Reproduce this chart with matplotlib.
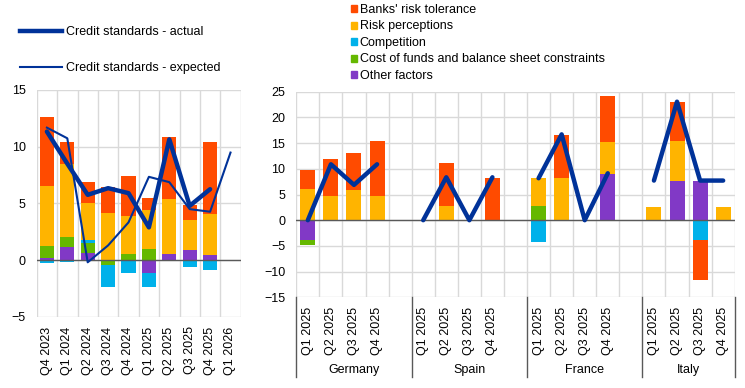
import matplotlib

matplotlib.use("Agg")

import matplotlib.pyplot as plt
import numpy as np
from matplotlib.lines import Line2D
from matplotlib.patches import Patch

# left panel: euro area, Q4 2023 - Q1 2026
EA_QUARTERS = ["Q4 2023", "Q1 2024", "Q2 2024", "Q3 2024", "Q4 2024",
               "Q1 2025", "Q2 2025", "Q3 2025", "Q4 2025", "Q1 2026"]
EA_OTHER = [0.2, 1.17, 0.65, 0.0, 0.0, -1.12, 0.56, 0.91, 0.47, 0.0]
EA_COST = [1.06, 0.88, 0.85, -0.47, 0.56, 1.0, 0.0, 0.0, 0.0, 0.0]
EA_COMPETITION = [-0.3, -0.15, 0.29, -1.88, -1.17, -1.23, 0.0, -0.59, -0.85, 0.0]
EA_RISK_PERC = [5.3, 6.43, 3.26, 4.17, 3.34, 3.43, 4.84, 2.64, 3.61, 0.0]
EA_RISK_TOL = [6.07, 1.94, 1.85, 2.29, 3.53, 1.06, 5.46, 1.32, 6.34, 0.0]
EA_ACTUAL = [11.33, 8.5, 5.75, 6.34, 5.9, 2.88, 10.65, 4.78, 6.25, np.nan]
EA_EXPECTED = [11.68, 10.74, -0.2, 1.29, 3.32, 7.34, 6.87, 4.49, 4.26, 9.48]

# right panel: countries, Q1 - Q4 2025
COUNTRIES = ["Germany", "Spain", "France", "Italy"]
CTRY_QUARTERS = ["Q1 2025", "Q2 2025", "Q3 2025", "Q4 2025"]
CT_RISK_TOL = [3.69, 7.19, 7.19, 10.68, 0, 8.36, 0, 8.23,
               0, 8.35, 0, 8.94, 0, 7.58, -7.77, 0]
CT_RISK_PERC = [6.09, 4.73, 5.89, 4.73, 0, 2.78, 0, 0,
                5.38, 8.23, 0, 6.22, 2.59, 7.7, 0, 2.59]
CT_COMPETITION = [0, 0, 0, 0, 0, 0, 0, 0,
                  -4.21, 0, 0, 0, 0, 0, -3.82, 0]
CT_COST = [-1.1, 0, 0, 0, 0, 0, 0, 0,
           2.78, 0, 0, 0, 0, 0, 0, 0]
CT_OTHER = [-3.82, 0, 0, 0, 0, 0, 0, 0,
            0, 0, 0, 9.0, 0, 7.71, 7.71, 0]
CT_ACTUAL = [0, 10.88, 6.87, 10.88, 0, 8.35, 0, 8.35,
             8.16, 16.7, 0, 9.13, 7.71, 23.06, 7.71, 7.71]

FACTOR_NAMES = ["Other factors", "Cost of funds and balance sheet constraints",
                "Competition", "Risk perceptions", "Banks' risk tolerance"]
FACTOR_COLORS = ["#8139C6", "#65B800", "#00B1EA", "#FFB400", "#FF4B00"]
LINE_COLOR = "#003299"
GRID = "#D9D9D9"


def stacked(ax, x, series, width):
    pos = np.zeros(len(x))
    neg = np.zeros(len(x))
    for values, color in zip(series, FACTOR_COLORS):
        v = np.asarray(values, dtype=float)
        up = np.where(v > 0, v, 0)
        dn = np.where(v < 0, v, 0)
        ax.bar(x, up, width, bottom=pos, color=color, linewidth=0, zorder=2)
        ax.bar(x, dn, width, bottom=neg, color=color, linewidth=0, zorder=2)
        pos += up
        neg += dn


def style(ax, n_slots, ylim, step):
    ax.set_xlim(0, n_slots)
    ax.set_ylim(*ylim)
    ax.set_yticks(np.arange(ylim[0], ylim[1] + 1, step))
    ax.set_xticks(np.arange(n_slots + 1), minor=True)
    ax.grid(axis="y", which="major", color=GRID, linewidth=1)
    ax.grid(axis="x", which="minor", color=GRID, linewidth=1)
    ax.set_axisbelow(True)
    for s in ax.spines.values():
        s.set_visible(False)
    ax.tick_params(axis="both", which="both", length=0)
    ax.tick_params(axis="y", pad=8)
    ax.tick_params(axis="x", pad=7)
    ax.axhline(0, color="#595959", linewidth=1, zorder=3)


plt.rcParams.update({"font.family": ["Liberation Sans", "DejaVu Sans"],
                     "font.size": 9})

fig = plt.figure(figsize=(7.45, 3.88), dpi=100)
ax1 = fig.add_axes([36.7 / 745, 1 - 316.7 / 388, 204 / 745, 226.7 / 388])
ax2 = fig.add_axes([296.3 / 745, 1 - 297.3 / 388, 438.4 / 745, 205.6 / 388])

# left panel
x1 = np.arange(len(EA_QUARTERS)) + 0.5
stacked(ax1, x1, [EA_OTHER, EA_COST, EA_COMPETITION, EA_RISK_PERC, EA_RISK_TOL], 0.69)
ax1.plot(x1, EA_ACTUAL, color=LINE_COLOR, linewidth=3.2, zorder=4,
         solid_capstyle="round", solid_joinstyle="round")
ax1.plot(x1, EA_EXPECTED, color=LINE_COLOR, linewidth=1.5, zorder=5)
style(ax1, len(EA_QUARTERS), (-5, 15), 5)
ax1.set_xticks(x1)
ax1.set_xticklabels(EA_QUARTERS, rotation=90)

# right panel: 5 slots per country, last country without gap
n_q = len(CTRY_QUARTERS)
x2 = np.array([5 * c + q + 0.5 for c in range(len(COUNTRIES)) for q in range(n_q)])
n_slots2 = 5 * (len(COUNTRIES) - 1) + n_q
stacked(ax2, x2, [CT_OTHER, CT_COST, CT_COMPETITION, CT_RISK_PERC, CT_RISK_TOL], 0.65)
for c in range(len(COUNTRIES)):
    sl = slice(c * n_q, (c + 1) * n_q)
    ax2.plot(x2[sl], CT_ACTUAL[sl], color=LINE_COLOR, linewidth=3.2, zorder=4,
             solid_capstyle="round", solid_joinstyle="round")
style(ax2, n_slots2, (-15, 25), 5)
ax2.set_xticks(x2)
ax2.set_xticklabels(CTRY_QUARTERS * len(COUNTRIES), rotation=90)

bounds = [5 * c for c in range(len(COUNTRIES))] + [n_slots2]
for b in bounds:
    ax2.plot([b, b], [0, -0.388], color="#595959", linewidth=1,
             transform=ax2.get_xaxis_transform(), clip_on=False)
for c, name in enumerate(COUNTRIES):
    ax2.text((bounds[c] + bounds[c + 1]) / 2, -0.352, name, ha="center", va="center",
             transform=ax2.get_xaxis_transform())

# legends
line_handles = [Line2D([], [], color=LINE_COLOR, linewidth=3.2),
                Line2D([], [], color=LINE_COLOR, linewidth=1.5)]
fig.legend(line_handles, ["Credit standards - actual", "Credit standards - expected"],
           loc="upper left", bbox_to_anchor=(20 / 745, 1 - 26 / 388), frameon=False,
           borderpad=0, borderaxespad=0, handlelength=3.4, handletextpad=0.25,
           labelspacing=1.93)

patch_handles = [Patch(color=c) for c in FACTOR_COLORS[::-1]]
fig.legend(patch_handles, FACTOR_NAMES[::-1], loc="upper left",
           bbox_to_anchor=(351 / 745, 1 - 4 / 388), frameon=False, borderpad=0,
           borderaxespad=0, handlelength=0.5, handleheight=0.5,
           handletextpad=0.2, labelspacing=0.36)

fig.savefig("out.png", dpi=100, facecolor="white")
